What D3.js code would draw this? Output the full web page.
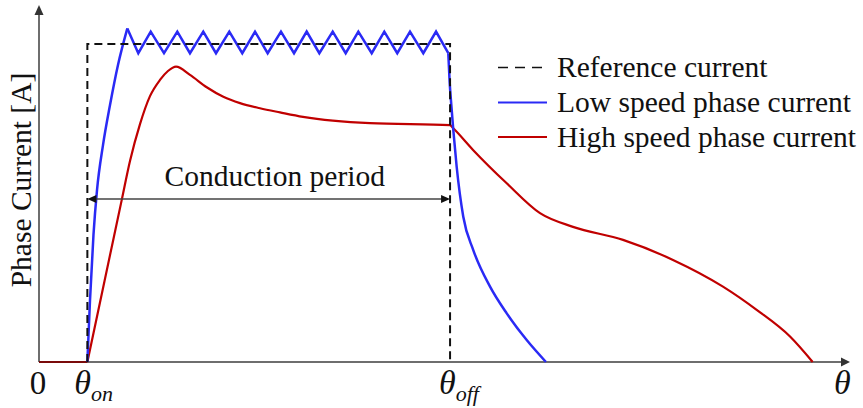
<!DOCTYPE html>
<html>
<head>
<meta charset="utf-8">
<script src="https://cdn.jsdelivr.net/npm/d3@7/dist/d3.min.js"></script>
<style>
  html, body { margin: 0; padding: 0; background: #fff; }
  svg { display: block; }
  text { font-family: "Liberation Serif", "Times New Roman", Times, serif; fill: #111; }
</style>
</head>
<body>
<svg id="chart" width="863" height="408" font-family="Liberation Serif, Times New Roman, serif"></svg>
<script>
// Rotor angle (arbitrary units) and current (A)
const thetaOn = 6;
const thetaOff = 51;
const iRef = 10;

// Reference current: flat top between turn-on and turn-off
const refTheta = [thetaOn, thetaOn, thetaOff, thetaOff];
const refCurrent = [0, iRef, iRef, 0];

// Low speed: fast rise, hysteresis chopping around the reference, fast decay
const lowRiseTheta = [6.0, 6.33, 6.76, 7.20, 7.94, 8.81, 9.80, 10.96];
const lowRiseCurrent = [0, 1.95, 4.0, 5.41, 6.82, 8.08, 9.34, 10.49];
const lowChopTheta = [10.96, 12.32, 13.86, 15.51, 17.16, 18.73, 20.38, 21.96, 23.61, 25.22, 26.80, 28.37,
  30.02, 31.64, 33.21, 34.78, 36.44, 38.05, 39.62, 41.28, 42.84, 44.45, 46.03, 47.68, 49.26, 50.78];
const lowChopCurrent = [10.49, 9.71, 10.39, 9.71, 10.39, 9.71, 10.39, 9.71, 10.39, 9.71, 10.39, 9.71,
  10.39, 9.71, 10.39, 9.71, 10.39, 9.71, 10.39, 9.71, 10.39, 9.71, 10.39, 9.71, 10.39, 9.71];
const lowFallTheta = [50.78, 50.95, 51.15, 51.4, 51.82, 52.64, 53.88, 55.96, 58.03, 60.51, 62.9];
const lowFallCurrent = [9.71, 8.8, 8.1, 7.30, 6.14, 4.57, 3.52, 2.37, 1.53, 0.69, 0];

// High speed: single pulse, current never reaches the reference
const highFlatTheta = [0, thetaOn];
const highFlatCurrent = [0, 0];
const highTheta = [6.0, 8.13, 10.26, 11.29, 12.53, 13.77, 15.01, 16.0, 17.0, 18.73, 20.81, 22.87, 24.94,
  27.42, 29.9, 32.75, 41.07, 50.99, 51.4, 53.85, 58.03, 62.16, 66.25, 72.46, 78.66, 84.86, 89.04, 93.18, 95.99];
const highCurrent = [0, 2.55, 5.09, 6.32, 7.48, 8.36, 8.87, 9.15, 9.29, 9.03, 8.64, 8.34, 8.14,
  7.98, 7.85, 7.71, 7.51, 7.45, 7.35, 6.67, 5.62, 4.68, 4.25, 3.84, 3.21, 2.37, 1.64, 0.80, 0];

const legendLabels = ["Reference current", "Low speed phase current", "High speed phase current"];

const svg = d3.select("#chart");
const x = d3.scaleLinear().domain([0, 100]).range([39, 845]);
const y = d3.scaleLinear().domain([0, 11]).range([362, 12.2]);

const blue = "#2a2af5";
const red = "#c00000";

// Axes with arrow heads
const axisColor = "#6e6e6e";
svg.append("line").attr("x1", x(0)).attr("x2", 844).attr("y1", y(0)).attr("y2", y(0))
  .attr("stroke", axisColor).attr("stroke-width", 2);
svg.append("line").attr("x1", x(0)).attr("x2", x(0)).attr("y1", y(0)).attr("y2", 12)
  .attr("stroke", axisColor).attr("stroke-width", 2);
svg.append("path").attr("d", `M850,${y(0)} L841,${y(0) - 4.5} L841,${y(0) + 4.5} Z`).attr("fill", "#333");
svg.append("path").attr("d", `M${x(0)},5 L${x(0) - 4.5},15 L${x(0) + 4.5},15 Z`).attr("fill", "#333");

const line = (curve) => d3.line().x(d => x(d[0])).y(d => y(d[1])).curve(curve);
const zip = (a, b) => a.map((v, i) => [v, b[i]]);

// High speed phase current
const highG = svg.append("g").attr("fill", "none").attr("stroke", red).attr("stroke-width", 2.2);
highG.append("path").datum(zip(highFlatTheta, highFlatCurrent)).attr("d", line(d3.curveLinear))
  .attr("stroke", "#7a0a0a");
highG.append("path").datum(zip(highTheta, highCurrent)).attr("d", line(d3.curveMonotoneX));

// Low speed phase current
const lowG = svg.append("g").attr("fill", "none").attr("stroke", blue).attr("stroke-width", 2.5)
  .attr("stroke-linejoin", "miter");
lowG.append("path").datum(zip(lowRiseTheta, lowRiseCurrent)).attr("d", line(d3.curveMonotoneX));
lowG.append("path").datum(zip(lowChopTheta, lowChopCurrent)).attr("d", line(d3.curveLinear));
lowG.append("path").datum(zip(lowFallTheta, lowFallCurrent)).attr("d", line(d3.curveMonotoneX));

// Reference current (dashed)
svg.append("path").datum(zip(refTheta, refCurrent))
  .attr("d", line(d3.curveLinear)).attr("fill", "none")
  .attr("stroke", "#111").attr("stroke-width", 2).attr("stroke-dasharray", "8,5");

// Conduction period dimension arrow
const arrowY = 199;
svg.append("line").attr("x1", x(thetaOn) + 6).attr("x2", x(thetaOff) - 6)
  .attr("y1", arrowY).attr("y2", arrowY).attr("stroke", "#444").attr("stroke-width", 1.4);
svg.append("path").attr("d", `M${x(thetaOn)},${arrowY} L${x(thetaOn) + 9},${arrowY - 4} L${x(thetaOn) + 9},${arrowY + 4} Z`).attr("fill", "#111");
svg.append("path").attr("d", `M${x(thetaOff)},${arrowY} L${x(thetaOff) - 9},${arrowY - 4} L${x(thetaOff) - 9},${arrowY + 4} Z`).attr("fill", "#111");
svg.append("text").attr("x", (x(thetaOn) + x(thetaOff)) / 2 + 6).attr("y", 186)
  .attr("text-anchor", "middle").attr("font-size", 29.5).text("Conduction period");

// Axis labels
svg.append("text").attr("transform", "translate(31,180) rotate(-90)")
  .attr("text-anchor", "middle").attr("font-size", 29.5).text("Phase Current [A]");

svg.append("text").attr("x", x(0) - 1).attr("y", 394).attr("text-anchor", "middle")
  .attr("font-size", 33).text("0");

function thetaLabel(px, sub) {
  const t = svg.append("text").attr("x", px).attr("y", 394).attr("font-size", 34)
    .attr("font-style", "italic");
  t.append("tspan").text("θ");
  if (sub) t.append("tspan").attr("dy", 7).attr("font-size", 22).text(sub);
}
thetaLabel(x(thetaOn) - 13, "on");
thetaLabel(x(thetaOff) - 11, "off");
thetaLabel(834, null);

// Legend
const legend = svg.append("g");
const rowY = [77, 112, 146.5];
const styles = [
  { stroke: "#111", dash: "10,7", w: 1.6 },
  { stroke: blue, dash: null, w: 2.2 },
  { stroke: red, dash: null, w: 2.2 }
];
legendLabels.forEach((lab, i) => {
  legend.append("line").attr("x1", 498).attr("x2", 547)
    .attr("y1", rowY[i] - 9.5).attr("y2", rowY[i] - 9.5)
    .attr("stroke", styles[i].stroke).attr("stroke-width", styles[i].w)
    .attr("stroke-dasharray", styles[i].dash);
  legend.append("text").attr("x", 557).attr("y", rowY[i]).attr("font-size", 29.5).text(lab);
});
</script>
</body>
</html>
